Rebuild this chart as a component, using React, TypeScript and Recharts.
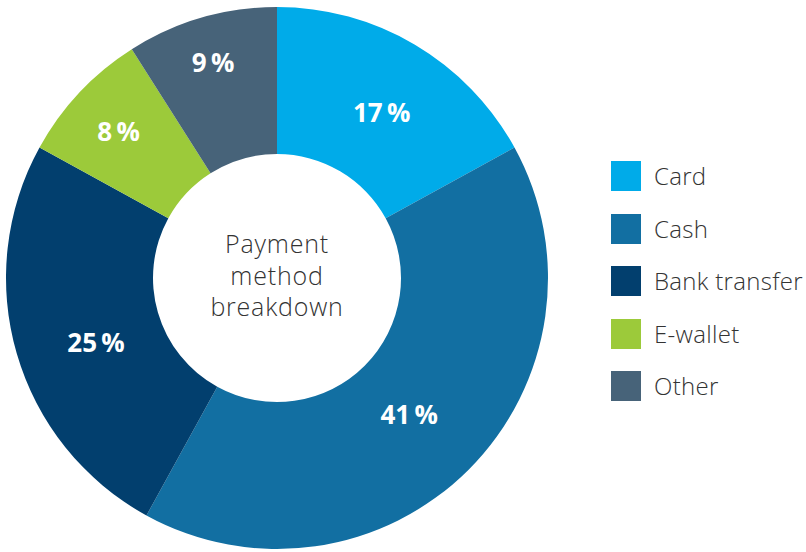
import React from 'react';
import { PieChart, Pie, Cell, Legend } from 'recharts';

const categories = ['Card', 'Cash', 'Bank transfer', 'E-wallet', 'Other'];
const shares = [17, 41, 25, 8, 9];
const colors = ['#00ABE9', '#126FA2', '#023F6E', '#9CCA3A', '#476379'];
const centerLines = ['Payment', 'method', 'breakdown'];

// label placement style per slice: radius from centre and angle nudge (degrees)
const labelRadius = [196, 190, 192, 216, 225];
const labelAngleNudge = [-1.7, -0.9, 3.3, 0.4, 0.3];

const data = categories.map((name, i) => ({ name, value: shares[i] }));

const RAD = Math.PI / 180;
const FONT = '"Open Sans", sans-serif';

const renderLabel = (props: any) => {
  const { cx, cy, midAngle, value, index } = props;
  const r = labelRadius[index];
  const a = midAngle + labelAngleNudge[index];
  const x = cx + r * Math.cos(-a * RAD);
  const y = cy + r * Math.sin(-a * RAD);
  return (
    <text x={x} y={y} fill="#ffffff" textAnchor="middle" dominantBaseline="central"
      fontFamily={FONT} fontWeight={700} fontSize={26}>
      {`${value}\u2009%`}
    </text>
  );
};

const renderLegend = () => (
  <div style={{ fontFamily: FONT }}>
    {data.map((d, i) => (
      <div key={d.name} style={{ display: 'flex', alignItems: 'center', height: 30, marginBottom: i < data.length - 1 ? 22.5 : 0 }}>
        <div style={{ width: 30, height: 30, background: colors[i], marginRight: 13 }} />
        <span style={{ fontSize: 24, fontWeight: 300, letterSpacing: 0.3, color: '#333333', lineHeight: '30px', whiteSpace: 'nowrap' }}>{d.name}</span>
      </div>
    ))}
  </div>
);

export default function App() {
  return (
    <div style={{ position: 'absolute', left: 0, top: 0, width: 806, height: 552, background: '#ffffff' }}>
      <PieChart width={806} height={552} margin={{ top: 0, right: 0, bottom: 0, left: 0 }}>
        <Pie
          data={data}
          dataKey="value"
          nameKey="name"
          cx={277}
          cy={278}
          innerRadius={124}
          outerRadius={271}
          startAngle={90}
          endAngle={-270}
          stroke="none"
          label={renderLabel}
          labelLine={false}
          isAnimationActive={false}
        >
          {data.map((d, i) => (
            <Cell key={d.name} fill={colors[i]} />
          ))}
        </Pie>
        {centerLines.map((t, i) => (
          <text key={t} x={277} y={253 + i * 31.5} textAnchor="middle" fontFamily={FONT}
            fontSize={25} fontWeight={300} letterSpacing={0.8} fill="#333333">{t}</text>
        ))}
        <Legend
          content={renderLegend}
          layout="vertical"
          wrapperStyle={{ position: 'absolute', left: 611, top: 161, width: 195 }}
        />
      </PieChart>
    </div>
  );
}
